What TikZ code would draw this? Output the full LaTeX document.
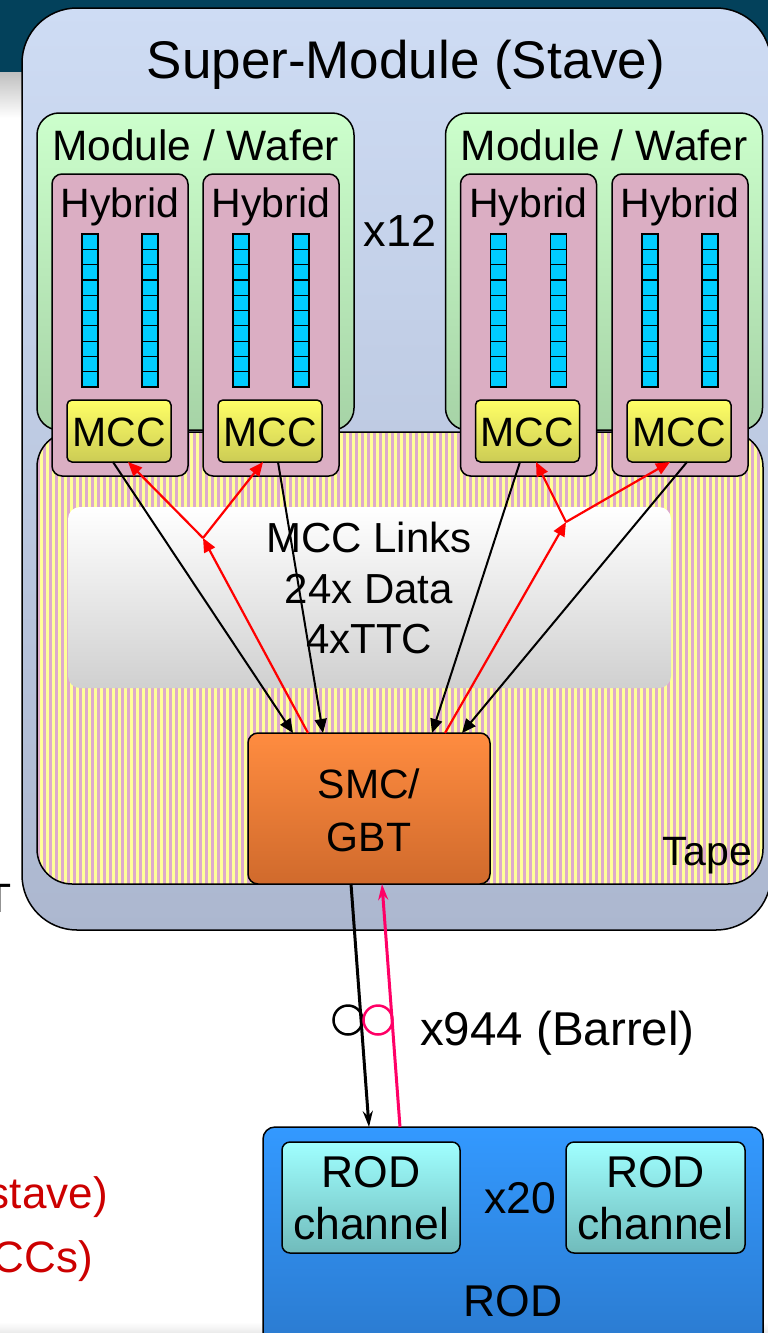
\documentclass[tikz,border=0pt]{standalone}
\usepackage{fontspec}
\setmainfont{Liberation Sans}
\usetikzlibrary{arrows.meta,calc}
\definecolor{band}{HTML}{03415B}
\definecolor{staveT}{HTML}{CEDCF4}
\definecolor{staveB}{HTML}{ACB7CF}
\definecolor{modT}{HTML}{CCFFCC}
\definecolor{modB}{HTML}{A6D3A6}
\definecolor{hyb}{HTML}{DBAEC3}
\definecolor{pixc}{HTML}{00CCFF}
\definecolor{mccT}{HTML}{FFFF66}
\definecolor{mccB}{HTML}{CCCC55}
\definecolor{tapeY}{HTML}{FFFF99}
\definecolor{tapeP}{HTML}{DDAACC}
\definecolor{linkB}{HTML}{D0D0D0}
\definecolor{smcT}{HTML}{FF8C40}
\definecolor{smcB}{HTML}{D06A2C}
\definecolor{rodT}{HTML}{3399FF}
\definecolor{rodB}{HTML}{2B7BD0}
\definecolor{chT}{HTML}{A0FFFF}
\definecolor{chB}{HTML}{70BBBB}
\definecolor{pinkln}{HTML}{FF0066}
\definecolor{redtxt}{HTML}{CC0000}
\begin{document}
\begin{tikzpicture}[x=1pt,y=-1pt,
  box/.style={draw=black, line width=1.5pt, inner sep=0pt, outer sep=0pt},
  stavebox/.style={box, rounded corners=55pt, top color=staveT, bottom color=staveB},
  modbox/.style={box, rounded corners=22pt, top color=modT, bottom color=modB, minimum width=317pt, minimum height=317pt},
  hybbox/.style={box, rounded corners=10pt, fill=hyb, minimum width=136pt, minimum height=302pt},
  mccbox/.style={box, rounded corners=5pt, top color=mccT, bottom color=mccB, minimum width=104pt, minimum height=62pt},
  pix/.style={draw=black, line width=1.2pt, fill=pixc},
  txt/.style={font=\fontsize{41}{50}\selectfont, inner sep=0pt, anchor=base},
  bigtxt/.style={txt, font=\fontsize{44.5}{50}\selectfont},
  blkarr/.style={draw=black, line width=2pt, -{Triangle[length=14pt,width=12pt]}},
  redarr/.style={draw=red, line width=2.2pt, -{Triangle[length=14pt,width=12pt]}},
]
\useasboundingbox (0,0) rectangle (768,1333);
% background
\fill[band] (0,0) rectangle (768,72);
\shade[top color=black!25, bottom color=white] (0,72) rectangle (768,118);
\shade[top color=white, bottom color=black!8] (0,1322) rectangle (768,1333);

% stave
\node[stavebox, minimum width=749pt, minimum height=922pt] (stave) at (396.5,469) {};
\node[txt, font=\fontsize{53}{60}\selectfont] (title) at (406,78) {Super-Module (Stave)};

% modules
\node[modbox] (modL) at (195.5,271.5) {};
\node[modbox] (modR) at (604,271.5) {};
\node[txt, font=\fontsize{42.5}{50}\selectfont] (modLt) at (195.5,160) {Module / Wafer};
\node[txt, font=\fontsize{42.5}{50}\selectfont] (modRt) at (604,160) {Module / Wafer};
\node[txt, font=\fontsize{45}{50}\selectfont] (x12) at (400,246) {x12};

% tape
\begin{scope}
  \clip[rounded corners=35pt] (37,432) rectangle (763,884);
  \fill[tapeY] (37,432) rectangle (763,884);
  \foreach \x in {37,43,...,763} \fill[tapeP] (\x,432) rectangle (\x+3,884);
\end{scope}
\node[box, rounded corners=35pt, minimum width=726pt, minimum height=452pt] (tape) at (400,658) {};
\node[txt, anchor=base east] (tapet) at (752,865) {Tape};

% links panel
\node[inner sep=0pt, rounded corners=12pt, top color=white, bottom color=linkB, minimum width=603pt, minimum height=181pt] (links) at (369.5,597.5) {};
\node[txt, font=\fontsize{42}{50}\selectfont] (l1) at (369,552) {MCC Links};
\node[txt, font=\fontsize{42}{50}\selectfont] (l2) at (369,603) {24x Data};
\node[txt, font=\fontsize{42}{50}\selectfont] (l3) at (369,653) {4xTTC};

% hybrids
\foreach \n/\cx in {1/120,2/271,3/528.5,4/680} {
  \node[hybbox] (hyb\n) at (\cx,325) {};
  \node[txt] (hybt\n) at (\cx,217) {Hybrid};
  \foreach \dx in {-30,30} {
    \foreach \i in {0,...,9} {
      \draw[pix] (\cx+\dx-8,234+\i*15.3) rectangle ++(16,15.3);
    }
  }
  \node[mccbox] (mcc\n) at (\cx-1,431) {};
  \node[txt] (mcct\n) at (\cx-1,446) {MCC};
}

% SMC
\node[box, rounded corners=10pt, top color=smcT, bottom color=smcB, minimum width=242pt, minimum height=151pt] (smc) at (369,808.5) {};
\node[txt] (smct1) at (369,798) {SMC/};
\node[txt] (smct2) at (369,851) {GBT};

% MCC links arrows
\draw[blkarr] ([xshift=-6pt]mcc1.south) -- ([xshift=-76pt]smc.north);
\draw[blkarr] ([xshift=8pt]mcc2.south) -- ([xshift=-46pt]smc.north);
\draw[blkarr] ([xshift=-7.5pt]mcc3.south) -- ([xshift=63pt]smc.north);
\draw[blkarr] ([xshift=8pt]mcc4.south) -- ([xshift=93pt]smc.north);
\coordinate (bL) at (203,538);
\coordinate (bR) at (566,522);
\draw[redarr] ([xshift=-61pt]smc.north) -- (bL);
\draw[redarr] (bL) -- ([xshift=9pt]mcc1.south);
\draw[redarr] (bL) -- ([xshift=-7pt]mcc2.south);
\draw[redarr] ([xshift=76pt]smc.north) -- (bR);
\draw[redarr] (bR) -- ([xshift=8.5pt]mcc3.south);
\draw[redarr] (bR) -- ([xshift=-9pt]mcc4.south);

% ROD
\node[box, rounded corners=12pt, top color=rodT, bottom color=rodB, minimum width=500pt, minimum height=218pt] (rod) at (513,1236) {};
\node[box, rounded corners=8pt, top color=chT, bottom color=chB, minimum width=178pt, minimum height=111pt] (ch1) at (371,1197.5) {};
\node[box, rounded corners=8pt, top color=chT, bottom color=chB, minimum width=179pt, minimum height=111pt] (ch2) at (655.5,1197.5) {};
\node[bigtxt] (ch1a) at (371,1187) {ROD};
\node[bigtxt] (ch1b) at (371,1239) {channel};
\node[bigtxt] (ch2a) at (655.5,1187) {ROD};
\node[bigtxt] (ch2b) at (655.5,1239) {channel};
\node[bigtxt] (x20) at (520,1213) {x20};
\node[bigtxt] (rodt) at (513,1316) {ROD};

% optical link
\draw[black, line width=3pt, -{Stealth[length=16pt,width=10pt]}] ([xshift=-18pt]smc.south) -- ([xshift=-144pt]rod.north);
\draw[pinkln, line width=3pt, -{Stealth[length=16pt,width=10pt]}] ([xshift=-113pt]rod.north) -- ([xshift=13pt]smc.south);
\node[circle, draw=black, line width=2.5pt, minimum size=29pt, inner sep=0pt] (c1) at (348,1020) {};
\node[circle, draw=pinkln, line width=2.5pt, minimum size=29pt, inner sep=0pt] (c2) at (378,1020) {};
\node[txt, anchor=base west, font=\fontsize{47.5}{50}\selectfont] (barrel) at (420,1045) {x944 (Barrel)};

% side texts, cut by the picture's left edge as in the reference
\node[txt, anchor=base east] (tt) at (12,912) {T};
\node[txt, anchor=base east, text=redtxt, font=\fontsize{44}{50}\selectfont] (r1) at (108,1208) {stave)};
\node[txt, anchor=base east, text=redtxt, font=\fontsize{44}{50}\selectfont] (r2) at (93,1272) {CCs)};
\end{tikzpicture}
\end{document}
